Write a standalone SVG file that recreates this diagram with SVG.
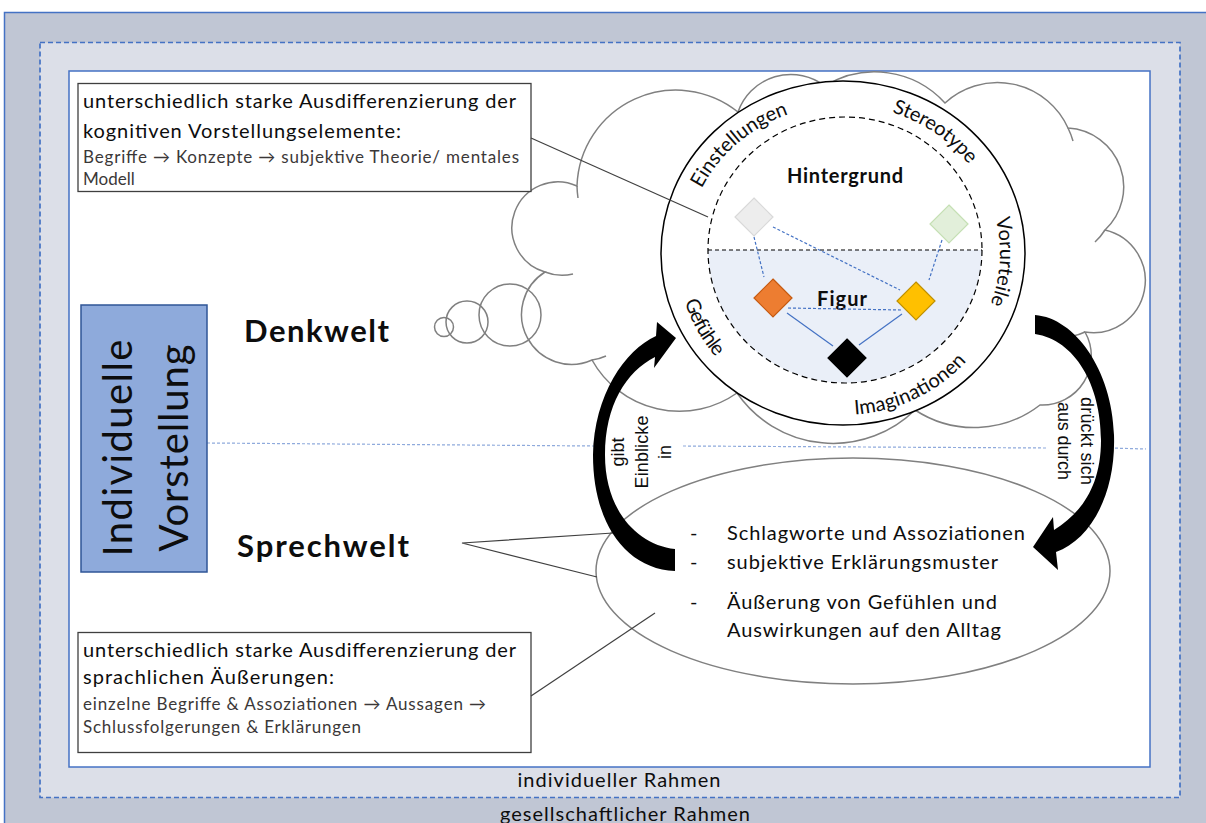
<svg xmlns="http://www.w3.org/2000/svg" width="1206" height="823" viewBox="0 0 1206 823">
<defs>
<style>
text{font-family:Lato,"Liberation Sans","DejaVu Sans",sans-serif;fill:#0d0d0d}
.outer{fill:#c0c6d4;stroke:#4472c4;stroke-width:1.5}
.mid{fill:#dcdfe8;stroke:#4472c4;stroke-width:1.7;stroke-dasharray:5 3}
.inner{fill:#fff;stroke:#4472c4;stroke-width:1.5}
.box{fill:#fff;stroke:#3f3f3f;stroke-width:1.3}
.t20{font-size:20px}
.t16{font-size:17px;fill:#3b3838}
.cloud{fill:#fff;stroke:#808080;stroke-width:1.5}
.thin{fill:none;stroke:#808080;stroke-width:1.5}
.lead{fill:none;stroke:#404040;stroke-width:1.2}
.link{stroke:#4472c4;stroke-width:1.2;fill:none}
.dash{stroke-dasharray:3 2}
.sep{stroke:#8faadc;stroke-width:1.2;stroke-dasharray:3 2;fill:none}
.ring{font-size:20px}
.bold{font-weight:700}
.arr{fill:#000}
.lbl{font-family:"Liberation Sans",Arial,sans-serif;font-size:18px}
</style>
<!-- baseline paths for the ring labels: clockwise (tops outward) and counter-clockwise (tops inward) -->
<path id="cw" d="M 686,253 A 157 148 0 1 1 1000,253 A 157 148 0 1 1 686,253"/>
<path id="ccw" d="M 677,253 A 166 162 0 1 0 1009,253 A 166 162 0 1 0 677,253"/>
</defs>

<rect width="1206" height="823" fill="#fff"/>

<!-- frames -->
<g id="frames">
<rect class="outer" x="4.5" y="12.5" width="1215" height="830"/>
<rect class="mid" x="40" y="42.5" width="1140" height="755"/>
<rect class="inner" x="69" y="71" width="1081" height="696"/>
<text class="t20" x="619" y="787" text-anchor="middle" font-size="19" textLength="203">individueller Rahmen</text>
<text class="t20" x="625" y="821" text-anchor="middle" font-size="19" textLength="250">gesellschaftlicher Rahmen</text>
</g>

<!-- separator between thinking and speaking -->
<g id="separator">
<path class="sep" d="M 207,443 L 595,446 M 683,446 L 1047,448 M 1110,448 L 1146,449"/>
</g>

<!-- thought cloud -->
<g id="cloud">
<path class="cloud" d="M 545,272 A 46 46 0 1 1 577,186 A 99 99 0 0 1 738,112 A 56 56 0 0 1 825,86 A 95 95 0 0 1 945,103 A 77.5 77.5 0 0 1 1068,128 A 59 59 0 0 1 1105,230 A 52 52 0 0 1 1085,332 A 49 49 0 0 1 1040,405 A 108 108 0 0 1 915,410 A 117 117 0 0 1 737,393 A 100 100 0 0 1 592,360 A 50 50 0 0 1 545,272 Z"/>
<path class="thin" d="M 577,186 A 99 99 0 0 0 578,198 M 545,272 A 46 46 0 0 0 573,274 M 592,360 A 50 50 0 0 0 606,356 M 1068,128 A 77.5 77.5 0 0 1 1073,141 M 1105,230 A 59 59 0 0 1 1095,242 M 1085,332 A 52 52 0 0 1 1073,336"/>
<circle class="thin" cx="444" cy="327" r="9.5"/>
<circle class="thin" cx="467" cy="322" r="21"/>
<circle class="thin" cx="510" cy="315" r="31"/>
</g>

<!-- figure / ground circle -->
<g id="mind-circle">
<ellipse cx="843" cy="253" rx="182" ry="172" fill="#fff" stroke="#000" stroke-width="1.5"/>
<path d="M 708,250 A 137 133 0 0 0 982,250 Z" fill="#eaeff8"/>
<ellipse cx="845" cy="250" rx="137" ry="133" fill="none" stroke="#000" stroke-width="1.2" stroke-dasharray="6 4"/>
<line x1="708" y1="250" x2="982" y2="250" stroke="#000" stroke-width="1.2" stroke-dasharray="4 3"/>
<text class="ring" text-anchor="middle"><textPath href="#cw" startOffset="13.1%" textLength="117">Einstellungen</textPath></text>
<text class="ring" text-anchor="middle"><textPath href="#cw" startOffset="35.1%" textLength="94">Stereotype</textPath></text>
<text class="ring" text-anchor="middle"><textPath href="#cw" startOffset="50.9%" textLength="87">Vorurteile</textPath></text>
<text class="ring" text-anchor="middle"><textPath href="#ccw" startOffset="7.9%" textLength="64">Gefühle</textPath></text>
<text class="ring" text-anchor="middle"><textPath href="#ccw" startOffset="32.3%" textLength="127">Imaginationen</textPath></text>
<text class="bold" x="845" y="183" font-size="20" text-anchor="middle" textLength="116">Hintergrund</text>
<text class="bold" x="842" y="306" font-size="20" text-anchor="middle" textLength="50">Figur</text>
</g>

<!-- links between the elements -->
<g id="element-links">
<line class="link dash" x1="773" y1="227" x2="900" y2="290"/>
<line class="link dash" x1="754" y1="237" x2="764" y2="277"/>
<line class="link dash" x1="942" y1="240" x2="929" y2="280"/>
<line class="link dash" x1="788" y1="308" x2="902" y2="310"/>
<line class="link" x1="787" y1="313" x2="833" y2="346"/>
<line class="link" x1="902" y1="314" x2="859" y2="345"/>
</g>

<g id="element-background-grey"><polygon points="754,198 773,217 754,236 735,217" fill="#ededed" stroke="#d9d9d9" stroke-width="1.2"/></g>
<g id="element-background-green"><polygon points="949,205 968,224 949,243 930,224" fill="#e2efda" stroke="#c5e0b4" stroke-width="1.2"/></g>
<g id="element-orange"><polygon points="773,279 792,298 773,317 754,298" fill="#ed7d31" stroke="#c55a11" stroke-width="1.2"/></g>
<g id="element-yellow"><polygon points="916,282 935,301 916,320 897,301" fill="#ffc000" stroke="#bf9000" stroke-width="1.2"/></g>
<g id="element-black"><polygon points="847,339 866,358 847,377 828,358" fill="#000" stroke="#000" stroke-width="1.2"/></g>

<!-- speech bubble -->
<g id="speech-bubble">
<ellipse cx="853" cy="571" rx="257" ry="113" fill="#fff" stroke="#808080" stroke-width="1.5"/>
<text class="t20" x="690" y="540">-</text>
<text class="t20" x="727" y="540" textLength="298">Schlagworte und Assoziationen</text>
<text class="t20" x="690" y="569">-</text>
<text class="t20" x="727" y="569" textLength="271">subjektive Erklärungsmuster</text>
<text class="t20" x="690" y="609">-</text>
<text class="t20" x="727" y="609" textLength="270">Äußerung von Gefühlen und</text>
<text class="t20" x="727" y="637" textLength="274">Auswirkungen auf den Alltag</text>
</g>

<!-- world labels -->
<g id="label-denkwelt"><text class="bold" x="244" y="342" font-size="31" textLength="145">Denkwelt</text></g>
<g id="label-sprechwelt"><text class="bold" x="237" y="557" font-size="31" textLength="172">Sprechwelt</text></g>

<g id="individuelle-vorstellung">
<rect x="81" y="305" width="126" height="267" fill="#8eaadb" stroke="#2f5597" stroke-width="1.5"/>
<text transform="translate(132,448) rotate(-90)" font-size="40" text-anchor="middle" textLength="217">Individuelle</text>
<text transform="translate(188,448) rotate(-90)" font-size="40" text-anchor="middle" textLength="207">Vorstellung</text>
</g>

<!-- explanation boxes -->
<g id="box-denkwelt">
<rect class="box" x="78" y="83.5" width="453" height="108"/>
<text class="t20" x="83" y="108" textLength="433">unterschiedlich starke Ausdifferenzierung der</text>
<text class="t20" x="83" y="138" textLength="318">kognitiven Vorstellungselemente:</text>
<text class="t16" x="83" y="163" textLength="436">Begriffe → Konzepte → subjektive Theorie/ mentales</text>
<text class="t16" x="83" y="185">Modell</text>
</g>
<g id="box-sprechwelt">
<rect class="box" x="78" y="632.5" width="453" height="120"/>
<text class="t20" x="83" y="657" textLength="433">unterschiedlich starke Ausdifferenzierung der</text>
<text class="t20" x="83" y="684" textLength="251">sprachlichen Äußerungen:</text>
<text class="t16" x="83" y="710" textLength="403">einzelne Begriffe &amp; Assoziationen → Aussagen →</text>
<text class="t16" x="83" y="733" textLength="278">Schlussfolgerungen &amp; Erklärungen</text>
</g>

<!-- connectors -->
<g id="connectors">
<line class="lead" x1="531" y1="138" x2="708" y2="217"/>
<line class="lead" x1="531" y1="696" x2="655" y2="613"/>
<path class="lead" d="M 613,533 L 462,543 L 597,577" stroke="#595959"/>
<path class="arr" d="M 675,549 C 637,545 605,510 605,455 C 605,405 626,372 655,357 L 654,368 L 676,338 L 657,322 L 656,336 C 625,350 594,395 593,455 C 593,522 625,569 675,571 Z"/>
<path class="arr" d="M 1035,315 C 1075,318 1112,370 1114,435 C 1116,495 1090,540 1056,552 L 1058,570 L 1033,547 L 1053,517 L 1054,530 C 1078,515 1101,490 1101,440 C 1101,385 1075,340 1035,334 Z"/>
<text class="lbl" transform="translate(624,452) rotate(-90)" text-anchor="middle">gibt</text>
<text class="lbl" transform="translate(648,452) rotate(-90)" text-anchor="middle" textLength="73">Einblicke</text>
<text class="lbl" transform="translate(671,452) rotate(-90)" text-anchor="middle">in</text>
<text class="lbl" transform="translate(1081,441) rotate(90)" text-anchor="middle" textLength="88">drückt sich</text>
<text class="lbl" transform="translate(1058,441) rotate(90)" text-anchor="middle" textLength="78">aus durch</text>
</g>
</svg>
